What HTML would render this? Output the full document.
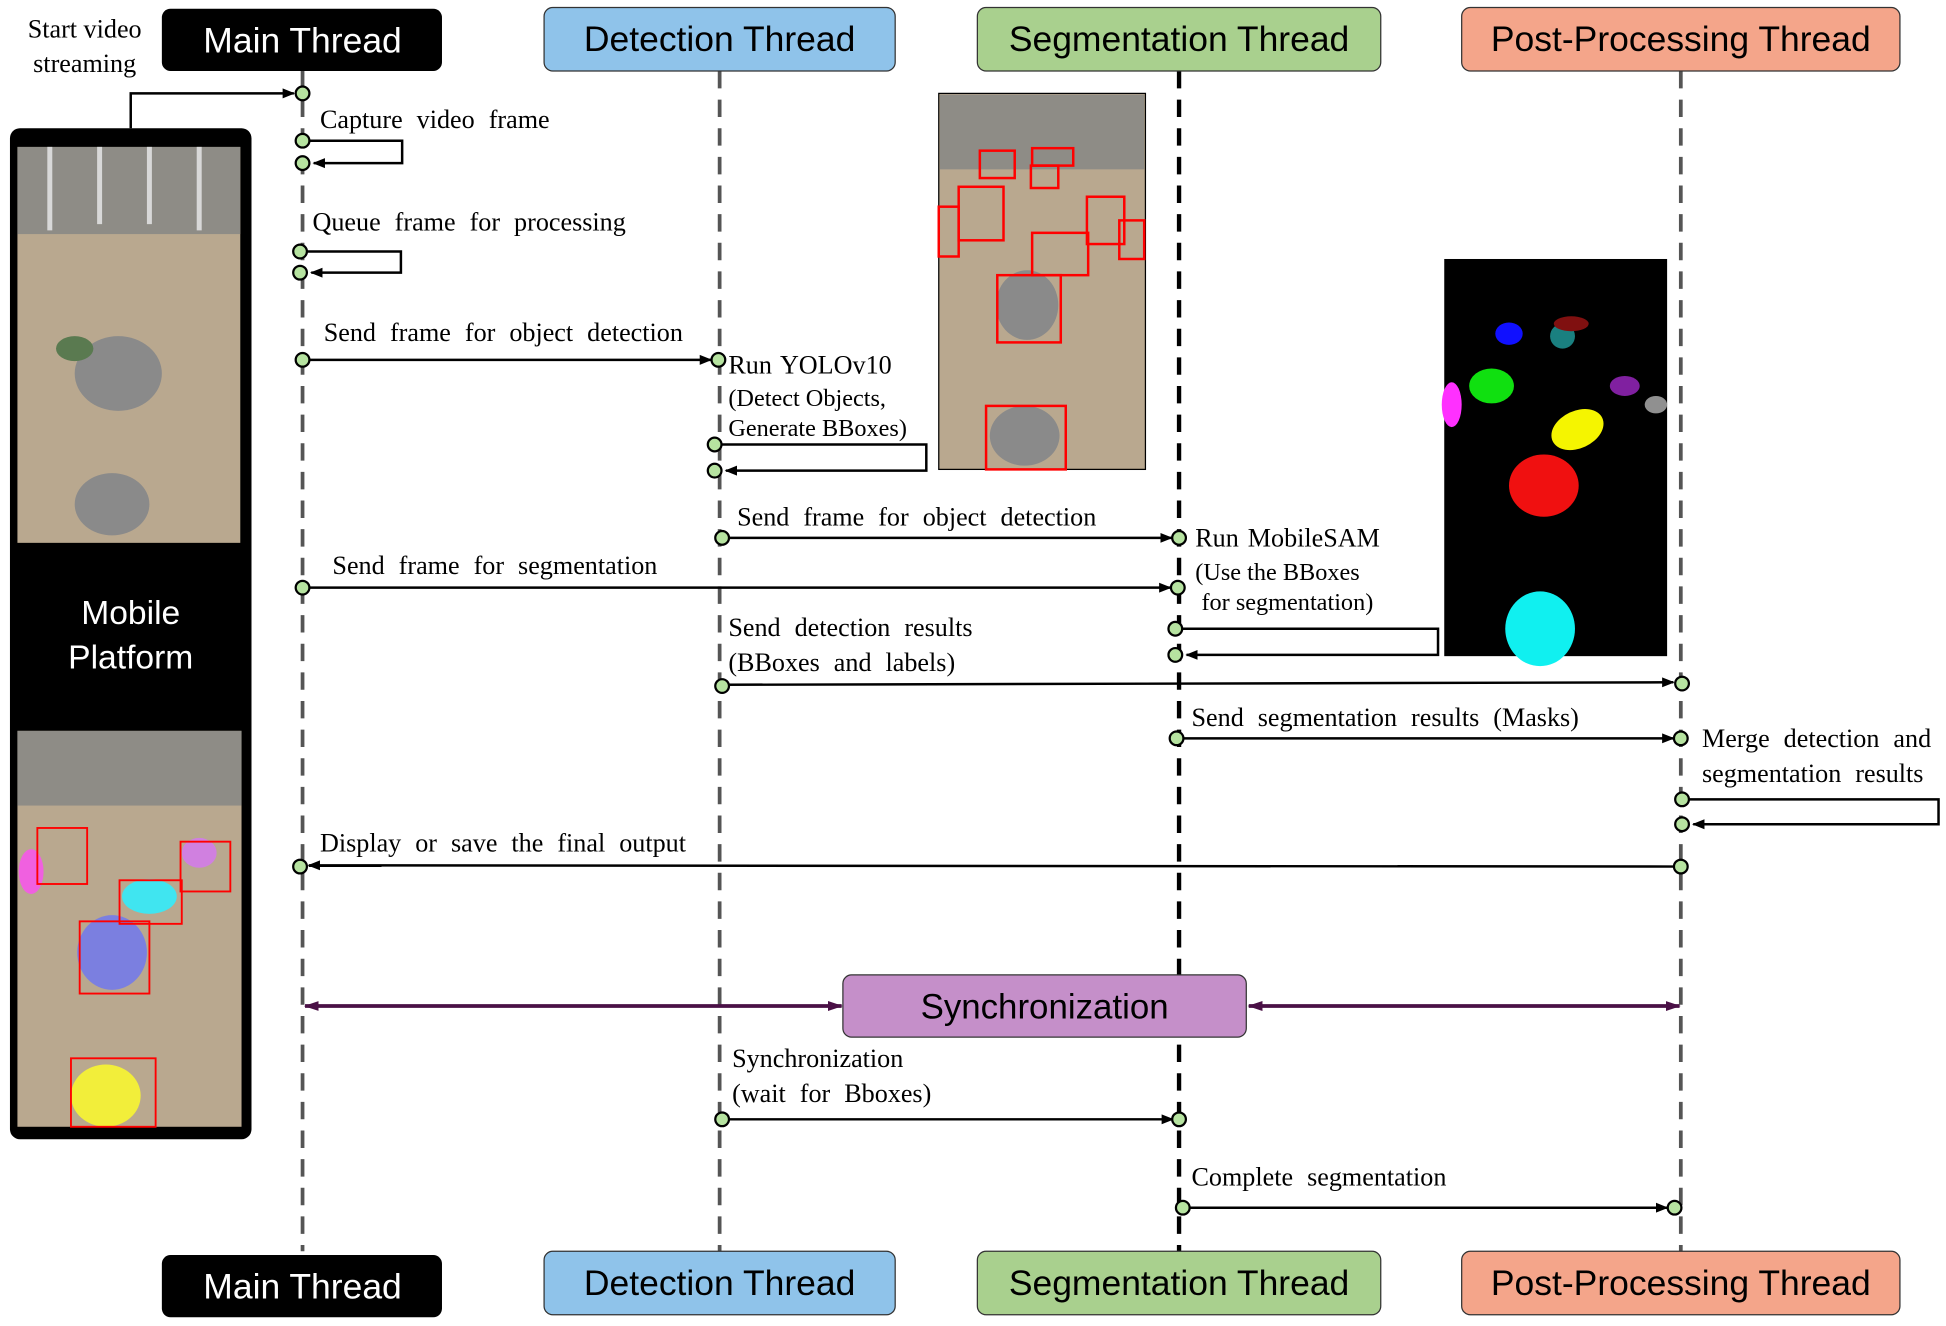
<!DOCTYPE html>
<html><head><meta charset="utf-8"><style>
html,body{margin:0;padding:0;background:#fff;width:1946px;height:1326px;overflow:hidden}
svg{display:block}
.lbl{font-family:"Liberation Serif",serif;font-size:21px;fill:#000;word-spacing:6px}
.hd{font-family:"Liberation Sans",sans-serif;font-size:28.5px}
</style></head><body>
<svg width="1946" height="1326" viewBox="0 0 1563 1065" xmlns="http://www.w3.org/2000/svg">
<defs>
<marker id="a" markerWidth="10" markerHeight="10" refX="9" refY="5" orient="auto" markerUnits="userSpaceOnUse"><path d="M0,1 L10,5 L0,9 Z" fill="#000"/></marker>
<marker id="p" markerWidth="12" markerHeight="10" refX="11" refY="5" orient="auto-start-reverse" markerUnits="userSpaceOnUse"><path d="M0,1 L12,5 L0,9 Z" fill="#4a1046"/></marker>
</defs>
<g stroke="#555" stroke-width="3" stroke-dasharray="14,9">
<line x1="243" y1="57" x2="243" y2="1005"/>
<line x1="578" y1="57" x2="578" y2="1005"/>
<line x1="1350" y1="57" x2="1350" y2="1005"/>
</g>
<line x1="947" y1="57" x2="947" y2="1005" stroke="#000" stroke-width="3.5" stroke-dasharray="14,9"/>

<g class="hd" text-anchor="middle">
<rect x="130" y="7" width="225" height="50" rx="7" fill="#000"/><text x="243" y="42" fill="#fff">Main Thread</text>
<rect x="437" y="6" width="282" height="51" rx="7" fill="#8fc3ea" stroke="#333"/><text x="578" y="41" fill="#000">Detection Thread</text>
<rect x="785" y="6" width="324" height="51" rx="7" fill="#a9d08e" stroke="#333"/><text x="947" y="41" fill="#000">Segmentation Thread</text>
<rect x="1174" y="6" width="352" height="51" rx="7" fill="#f4a58a" stroke="#333"/><text x="1350" y="41" fill="#000">Post-Processing Thread</text>
<rect x="130" y="1008" width="225" height="50" rx="7" fill="#000"/><text x="243" y="1043" fill="#fff">Main Thread</text>
<rect x="437" y="1005" width="282" height="51" rx="7" fill="#8fc3ea" stroke="#333"/><text x="578" y="1040" fill="#000">Detection Thread</text>
<rect x="785" y="1005" width="324" height="51" rx="7" fill="#a9d08e" stroke="#333"/><text x="947" y="1040" fill="#000">Segmentation Thread</text>
<rect x="1174" y="1005" width="352" height="51" rx="7" fill="#f4a58a" stroke="#333"/><text x="1350" y="1040" fill="#000">Post-Processing Thread</text>
</g>

<text class="lbl" x="68" y="30" text-anchor="middle" style="word-spacing:0">Start video</text>
<text class="lbl" x="68" y="58" text-anchor="middle" style="word-spacing:0">streaming</text>
<rect x="8" y="103" width="194" height="812" rx="8" fill="#000"/>
<rect x="14" y="118" width="179" height="318" fill="#b9a88f"/>
<rect x="14" y="118" width="179" height="70" fill="#8e8c86"/>
<g stroke="#d8d8d8" stroke-width="4"><line x1="40" y1="118" x2="40" y2="185"/><line x1="80" y1="118" x2="80" y2="180"/><line x1="120" y1="118" x2="120" y2="180"/><line x1="160" y1="118" x2="160" y2="185"/></g>
<ellipse cx="95" cy="300" rx="35" ry="30" fill="#8a8a8a"/><ellipse cx="90" cy="405" rx="30" ry="25" fill="#8a8a8a"/><ellipse cx="60" cy="280" rx="15" ry="10" fill="#5a7a50"/>
<text x="105" y="501" text-anchor="middle" fill="#fff" font-family="Liberation Sans,sans-serif" font-size="27">Mobile</text>
<text x="105" y="537" text-anchor="middle" fill="#fff" font-family="Liberation Sans,sans-serif" font-size="27">Platform</text>
<rect x="14" y="587" width="180" height="318" fill="#b9a88f"/>
<rect x="14" y="587" width="180" height="60" fill="#8e8c86"/>
<ellipse cx="90" cy="765" rx="28" ry="30" fill="#7b7fe0"/><ellipse cx="85" cy="880" rx="28" ry="25" fill="#f2ee3a"/><ellipse cx="120" cy="720" rx="22" ry="14" fill="#40e5f0"/><ellipse cx="25" cy="700" rx="10" ry="18" fill="#f060e0"/><ellipse cx="160" cy="685" rx="14" ry="12" fill="#d080e0"/>
<g fill="none" stroke="#f00" stroke-width="1.5"><rect x="64" y="740" width="56" height="58"/><rect x="57" y="850" width="68" height="55"/><rect x="96" y="707" width="50" height="35"/><rect x="30" y="665" width="40" height="45"/><rect x="145" y="676" width="40" height="40"/></g>
<polyline points="105,103 105,75 236,75" fill="none" stroke="#000" stroke-width="2" marker-end="url(#a)"/>

<rect x="754" y="75" width="166" height="302" fill="#b9a88f" stroke="#000"/>
<rect x="755" y="76" width="164" height="60" fill="#8e8c86"/>
<ellipse cx="825" cy="245" rx="25" ry="28" fill="#8a8a8a"/><ellipse cx="823" cy="350" rx="28" ry="24" fill="#8a8a8a"/>
<g fill="none" stroke="#f00" stroke-width="2"><rect x="787" y="121" width="28" height="22"/><rect x="829" y="119" width="33" height="14"/><rect x="828" y="133" width="22" height="18"/><rect x="770" y="150" width="36" height="43"/><rect x="754" y="166" width="16" height="40"/><rect x="829" y="187" width="45" height="34"/><rect x="873" y="158" width="30" height="38"/><rect x="899" y="177" width="20" height="31"/><rect x="801" y="221" width="51" height="54"/><rect x="792" y="326" width="64" height="51"/></g>

<rect x="1160" y="208" width="179" height="319" fill="#000"/>
<ellipse cx="1212" cy="268" rx="11" ry="9" fill="#1010ff"/><ellipse cx="1255" cy="270" rx="10" ry="10" fill="#1a8080"/><ellipse cx="1262" cy="260" rx="14" ry="6" fill="#801010"/>
<ellipse cx="1198" cy="310" rx="18" ry="14" fill="#10e010"/><ellipse cx="1166" cy="325" rx="8" ry="18" fill="#ff30ff"/><ellipse cx="1305" cy="310" rx="12" ry="8" fill="#8020a0"/><ellipse cx="1330" cy="325" rx="9" ry="7" fill="#909090"/>
<ellipse cx="1267" cy="345" rx="22" ry="15" fill="#f5f500" transform="rotate(-25 1267 345)"/><ellipse cx="1240" cy="390" rx="28" ry="25" fill="#f01010"/><ellipse cx="1237" cy="505" rx="28" ry="30" fill="#10f0f0"/>

<g fill="none" stroke="#000" stroke-width="2">
<polyline points="243,113 323,113 323,131 252,131" marker-end="url(#a)"/>
<polyline points="241,202 322,202 322,219 250,219" marker-end="url(#a)"/>
<line x1="243" y1="289" x2="571" y2="289" marker-end="url(#a)"/>
<polyline points="574,357 744,357 744,378 583,378" marker-end="url(#a)"/>
<line x1="580" y1="432" x2="941" y2="432" marker-end="url(#a)"/>
<line x1="243" y1="472" x2="940" y2="472" marker-end="url(#a)"/>
<polyline points="944,505 1155,505 1155,526 953,526" marker-end="url(#a)"/>
<line x1="580" y1="550" x2="1344" y2="548" marker-end="url(#a)"/>
<line x1="945" y1="593" x2="1344" y2="593" marker-end="url(#a)"/>
<polyline points="1351,642 1557,642 1557,662 1360,662" marker-end="url(#a)"/>
<line x1="1350" y1="696" x2="248" y2="695" marker-end="url(#a)"/>
<line x1="580" y1="899" x2="942" y2="899" marker-end="url(#a)"/>
<line x1="950" y1="970" x2="1339" y2="970" marker-end="url(#a)"/>
</g>
<g stroke="#4a1046" stroke-width="3">
<line x1="245" y1="808" x2="676" y2="808" marker-start="url(#p)" marker-end="url(#p)"/>
<line x1="1003" y1="808" x2="1349" y2="808" marker-start="url(#p)" marker-end="url(#p)"/>
</g>
<rect x="677" y="783" width="324" height="50" rx="7" fill="#c58fc9" stroke="#333"/>
<text x="839" y="818" text-anchor="middle" font-family="Liberation Sans,sans-serif" font-size="28">Synchronization</text>

<g fill="#b6e3a0" stroke="#000" stroke-width="1.8">
<circle cx="243" cy="75" r="5.5"/><circle cx="243" cy="113" r="5.5"/><circle cx="243" cy="131" r="5.5"/>
<circle cx="241" cy="202" r="5.5"/><circle cx="241" cy="219" r="5.5"/>
<circle cx="243" cy="289" r="5.5"/><circle cx="577" cy="289" r="5.5"/>
<circle cx="574" cy="357" r="5.5"/><circle cx="574" cy="378" r="5.5"/>
<circle cx="580" cy="432" r="5.5"/><circle cx="947" cy="432" r="5.5"/>
<circle cx="243" cy="472" r="5.5"/><circle cx="946" cy="472" r="5.5"/>
<circle cx="944" cy="505" r="5.5"/><circle cx="944" cy="526" r="5.5"/>
<circle cx="580" cy="551" r="5.5"/><circle cx="1351" cy="549" r="5.5"/>
<circle cx="945" cy="593" r="5.5"/><circle cx="1350" cy="593" r="5.5"/>
<circle cx="1351" cy="642" r="5.5"/><circle cx="1351" cy="662" r="5.5"/>
<circle cx="241" cy="696" r="5.5"/><circle cx="1350" cy="696" r="5.5"/>
<circle cx="580" cy="899" r="5.5"/><circle cx="947" cy="899" r="5.5"/>
<circle cx="950" cy="970" r="5.5"/><circle cx="1345" cy="970" r="5.5"/>
</g>

<g class="lbl">
<text x="257" y="103">Capture video frame</text>
<text x="251" y="185">Queue frame for processing</text>
<text x="260" y="274">Send frame for object detection</text>
<text x="585" y="300" style="word-spacing:2px">Run YOLOv10</text>
<text x="585" y="326" font-size="19.5" style="word-spacing:0">(Detect Objects,</text>
<text x="585" y="350" font-size="19.5" style="word-spacing:0">Generate BBoxes)</text>
<text x="592" y="422">Send frame for object detection</text>
<text x="960" y="439" style="word-spacing:2px">Run MobileSAM</text>
<text x="960" y="466" font-size="19.5" style="word-spacing:0">(Use the BBoxes</text>
<text x="965" y="490" font-size="19.5" style="word-spacing:0">for segmentation)</text>
<text x="267" y="461">Send frame for segmentation</text>
<text x="585" y="511">Send detection results</text>
<text x="585" y="539">(BBoxes and labels)</text>
<text x="957" y="583">Send segmentation results (Masks)</text>
<text x="1367" y="600">Merge detection and</text>
<text x="1367" y="628">segmentation results</text>
<text x="257" y="684">Display or save the final output</text>
<text x="588" y="857">Synchronization</text>
<text x="588" y="885">(wait for Bboxes)</text>
<text x="957" y="952">Complete segmentation</text>
</g>
</svg>
</body></html>
